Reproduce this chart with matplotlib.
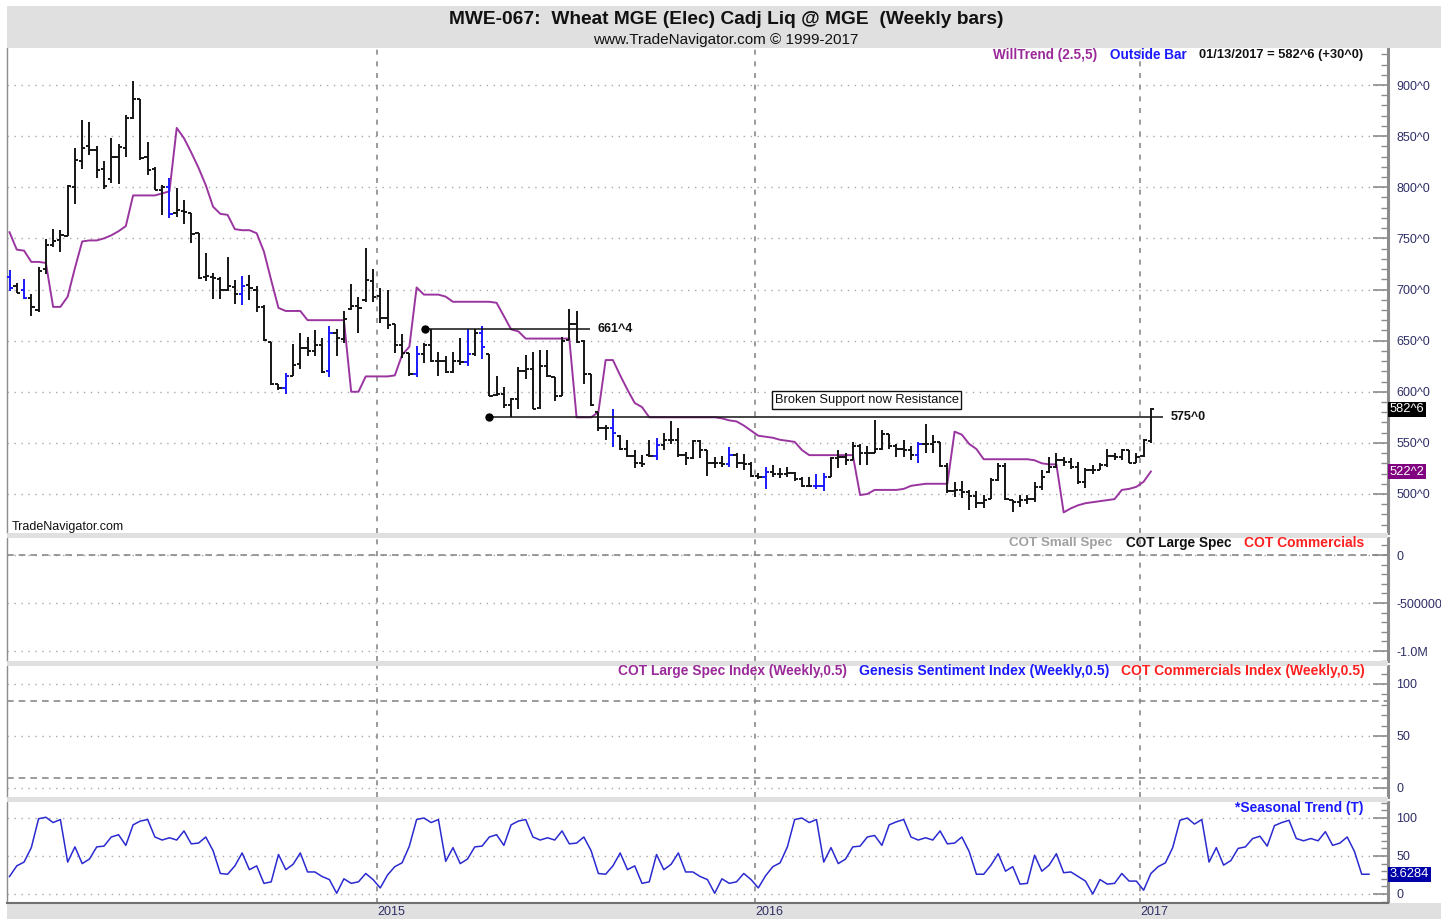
import matplotlib
matplotlib.use('Agg')
import numpy as np
import matplotlib.pyplot as plt
import matplotlib.transforms as mtransforms
from matplotlib.patches import Rectangle, Polygon, Circle
from matplotlib.ticker import FixedLocator, MultipleLocator, NullFormatter

# ---------------- data (weekly bars, Jan 10 2014 .. Jan 13 2017) ----------------
opens = [712, 703, 700, 692, 680, 720, 744, 748, 752, 800,
         826, 840, 836, 818, 808, 830, 838, 868, 886, 830,
         818, 797, 800, 775, 777, 775, 755, 712, 712, 710,
         700, 702, 696, 704, 700, 683, 649, 608, 604, 615,
         627, 643, 640, 646, 620, 657, 652, 681, 684, 690,
         708, 694, 672, 666, 646, 638, 617, 637, 646, 630,
         630, 619, 630, 629, 637, 657, 637, 597, 598, 587,
         593, 620, 622, 584, 625, 614, 596, 651, 666, 650,
         617, 580, 565, 565, 557, 544, 537, 530, 538, 537,
         548, 553, 553, 538, 535, 552, 543, 530, 530, 529,
         538, 530, 529, 518, 517, 522, 520, 520, 521, 515,
         508, 508, 508, 517, 535, 536, 533, 547, 540, 540,
         544, 559, 547, 544, 543, 538, 549, 549, 551, 527,
         503, 504, 502, 498, 491, 495, 514, 527, 494, 492,
         494, 495, 507, 522, 526, 533, 531, 526, 512, 523,
         523, 528, 537, 536, 543, 530, 537, 552]
highs = [719, 706, 710, 696, 722, 749, 759, 758, 802, 838,
         866, 864, 840, 826, 848, 842, 871, 904, 886, 844,
         820, 802, 809, 799, 788, 775, 755, 736, 716, 712,
         732, 709, 713, 714, 703, 685, 649, 608, 618, 647,
         657, 654, 660, 653, 664, 661, 679, 705, 693, 741,
         720, 701, 700, 666, 656, 638, 645, 648, 661, 639,
         635, 639, 653, 661, 661, 664, 637, 615, 605, 594,
         624, 636, 639, 641, 641, 614, 654, 681, 679, 651,
         617, 580, 567, 583, 558, 553, 543, 538, 553, 555,
         560, 571, 565, 541, 553, 553, 543, 536, 537, 546,
         540, 539, 531, 521, 526, 528, 525, 526, 522, 517,
         517, 520, 521, 536, 543, 540, 551, 549, 547, 572,
         563, 559, 549, 553, 547, 551, 568, 558, 551, 530,
         512, 513, 504, 503, 499, 516, 530, 530, 494, 499,
         499, 512, 523, 536, 540, 536, 535, 531, 525, 528,
         530, 544, 540, 544, 543, 540, 554, 584]
lows = [699, 697, 691, 674, 678, 715, 742, 737, 752, 784,
        818, 832, 809, 798, 804, 803, 830, 867, 827, 812,
        797, 773, 770, 771, 764, 745, 710, 708, 691, 691,
        699, 686, 685, 690, 678, 650, 607, 602, 598, 615,
        622, 635, 635, 618, 614, 635, 648, 680, 657, 688,
        688, 667, 661, 638, 633, 615, 614, 628, 629, 615,
        618, 618, 626, 625, 635, 632, 596, 596, 584, 575,
        583, 612, 583, 583, 614, 591, 596, 651, 648, 608,
        586, 562, 553, 546, 543, 536, 525, 526, 536, 533,
        543, 549, 536, 528, 534, 535, 518, 525, 526, 526,
        525, 523, 517, 515, 505, 517, 516, 517, 513, 507,
        507, 505, 503, 517, 525, 528, 533, 528, 528, 540,
        543, 544, 536, 536, 533, 530, 540, 540, 526, 501,
        497, 496, 484, 486, 486, 495, 513, 494, 482, 487,
        490, 492, 504, 521, 525, 527, 524, 510, 506, 520,
        523, 526, 533, 533, 530, 530, 536, 550]
closes = [701, 697, 692, 683, 718, 744, 747, 753, 801, 827,
          838, 836, 817, 801, 830, 839, 868, 886, 829, 817,
          797, 800, 774, 778, 776, 754, 711, 713, 711, 700,
          703, 696, 703, 701, 683, 651, 608, 604, 615, 626,
          643, 640, 646, 619, 657, 653, 671, 684, 682, 709,
          693, 672, 665, 646, 638, 617, 637, 646, 630, 630,
          619, 630, 629, 637, 657, 644, 596, 598, 587, 593,
          620, 622, 583, 625, 615, 596, 650, 666, 649, 617,
          587, 565, 565, 560, 544, 537, 530, 529, 537, 548,
          553, 553, 538, 535, 552, 543, 530, 530, 529, 538,
          530, 529, 518, 517, 522, 520, 520, 521, 515, 508,
          508, 508, 517, 535, 536, 533, 547, 540, 540, 544,
          559, 547, 544, 543, 538, 549, 549, 551, 527, 503,
          504, 502, 498, 491, 494, 514, 527, 495, 492, 494,
          495, 507, 517, 526, 533, 531, 526, 512, 523, 523,
          528, 537, 536, 543, 530, 536, 553, 582.75]
outside_bars = [0, 2, 22, 32, 38, 44, 56, 63, 65, 83, 89, 99, 104, 111, 112, 125]
willtrend = [756, 739, 738, 727, 727, 726, 683, 683, 693, 721,
             747, 748, 748, 750, 753, 757, 762, 792, 792, 792,
             792, 794, 796, 858, 848, 834, 819, 802, 781, 774,
             773, 759, 758, 758, 755, 737, 709, 682, 679, 679,
             679, 670, 670, 670, 670, 670, 670, 600, 600, 615,
             615, 615, 615, 616, 636, 644, 702, 695, 695, 695,
             693, 688, 688, 688, 688, 688, 688, 687, 674, 661,
             659, 652, 652, 652, 652, 652, 652, 652, 575, 575,
             575, 580, 631, 631, 616, 602, 589, 585, 575, 575,
             575, 575, 575, 575, 575, 575, 575, 575, 574, 572,
             571, 567, 562, 557, 556, 555, 553, 552, 551, 543,
             538, 538, 538, 538, 538, 538, 538, 499, 500, 504,
             504, 504, 504, 505, 508, 509, 510, 510, 510, 510,
             561, 558, 549, 544, 534, 534, 534, 534, 534, 534,
             534, 533, 530, 529, 529, 482, 486, 489, 491, 492,
             493, 494, 495, 504, 505, 507, 512, 522]
# seasonal trend, weekly (2014 from week 2, 2017 projected to week 32)
seasonal_2014 = [23, 37, 42, 61, 99, 101, 94, 98, 42, 62, 40, 46, 62, 63, 75, 78, 64,
                 91, 96, 98, 75, 71, 74, 71, 83, 66, 67, 75, 57, 27, 26, 37, 54, 32,
                 37, 14, 16, 52, 32, 39, 54, 29, 29, 23, 19, 1, 20, 14, 16, 27, 19]
seasonal_2015 = [8, 25, 36, 41, 63, 98, 100, 94, 98, 43, 61, 40, 46, 62, 63, 75, 78,
                 64, 91, 96, 98, 75, 71, 74, 71, 83, 66, 67, 75, 57, 27, 26, 37, 54,
                 32, 37, 14, 16, 52, 32, 39, 54, 29, 29, 23, 19, 1, 20, 14, 16, 27, 19]
seasonal_2016 = [8, 24, 36, 41, 62, 98, 100, 94, 98, 42, 61, 40, 46, 62, 63, 75, 77,
                 64, 91, 95, 98, 75, 71, 74, 71, 83, 66, 67, 75, 56, 26, 26, 38, 53,
                 30, 36, 13, 14, 51, 30, 38, 53, 28, 29, 23, 17, 0, 19, 13, 14, 27, 17, 17]
seasonal_2017 = [5, 27, 36, 41, 61, 97, 100, 92, 98, 42, 61, 38, 44, 60, 62, 73, 76,
                 63, 90, 94, 97, 73, 70, 73, 70, 82, 64, 67, 75, 56, 26, 26]
year_labels = ['2015', '2016', '2017']
year_first_bar = [51, 103, 156]
price_ticks = [500, 550, 600, 650, 700, 750, 800, 850, 900]
cot_ticks = [0, -500000, -1000000]
cot_tick_labels = ['0', '-500000', '-1.0M']
index_ticks = [0, 50, 100]
index_dashed = [84, 10]
seasonal_ticks = [0, 50, 100]
levels = [661.5, 575.0]
level_start = [57.2, 66.0]
level_end = [79.9, 158.7]
note_text = 'Broken Support now Resistance'
note_bar = 117.9
note_price = 592
last_date = '01/13/2017'
last_change = 30.0
seasonal_last_label = '3.6284'

# ---------------- layout helpers ----------------
W, H = 1441, 919
fig = plt.figure(figsize=(W / 100, H / 100), dpi=100)
fig.patch.set_facecolor('white')
renderer = fig.canvas.get_renderer()

L_PX, R_PX = 7, 1388
BAR0_PX, BAR_PX = 9.5, 7.27
XMIN = (L_PX - BAR0_PX) / BAR_PX
XMAX = (R_PX - BAR0_PX) / BAR_PX
GREY_BAND = '#e0e0e0'
AXIS_GREY = '#8c8c8c'
LABEL_COL = '#2e2e66'
FONT = 'Liberation Sans'


def fx(p):
    return p / W


def fy(p):
    return 1 - p / H


def bar_px(i):
    return BAR0_PX + i * BAR_PX


def fmt_price(v):
    whole = int(np.floor(v + 1e-9))
    eighths = int(round((v - whole) * 8))
    if eighths == 8:
        whole, eighths = whole + 1, 0
    return f"{whole}^{eighths}"


def fit_text(x0, x1, y, s, color, weight='bold', family=FONT, size0=9):
    t = fig.text(fx(x0), fy(y), s, color=color, family=family, fontweight=weight,
                 fontsize=size0, ha='left', va='center')
    w = t.get_window_extent(renderer=renderer).width
    t.set_fontsize(size0 * (x1 - x0) / w)
    return t


def band(x0, x1, y0, y1, color=GREY_BAND):
    fig.patches.append(Rectangle((fx(x0), fy(y1)), (x1 - x0) / W, (y1 - y0) / H,
                                 transform=fig.transFigure, facecolor=color,
                                 edgecolor='none', zorder=0))


def make_ax(top, bot, ylim, majors, minor_step, labels=None):
    ax = fig.add_axes([fx(L_PX), fy(bot), (R_PX - L_PX) / W, (bot - top) / H])
    ax.set_facecolor('white')
    ax.set_xlim(XMIN, XMAX)
    ax.set_ylim(*ylim)
    for s in ('top', 'bottom'):
        ax.spines[s].set_visible(False)
    ax.spines['left'].set_color(AXIS_GREY)
    ax.spines['left'].set_linewidth(1.0)
    ax.spines['right'].set_color(AXIS_GREY)
    ax.spines['right'].set_linewidth(2.2)
    ax.set_xticks([])
    ax.yaxis.tick_right()
    ax.yaxis.set_major_locator(FixedLocator(majors))
    if labels is not None:
        ax.set_yticklabels(labels)
    ax.yaxis.set_minor_locator(MultipleLocator(minor_step))
    ax.yaxis.set_minor_formatter(NullFormatter())
    ax.tick_params(axis='y', which='major', direction='in', length=11, width=1.2,
                   color=AXIS_GREY, labelsize=9, labelcolor=LABEL_COL, pad=6)
    ax.tick_params(axis='y', which='minor', direction='in', length=5, width=1.0,
                   color=AXIS_GREY)
    for lab in ax.get_yticklabels():
        lab.set_family(FONT)
    for m in majors:
        ax.axhline(m, color='#a8a8a8', lw=1.0, ls=(0, (1, 4)), zorder=1)
    for b in year_first_bar:
        ax.axvline(b - 0.45, color='#8a8a8a', lw=1.2, ls=(0, (3, 4)), zorder=1)
    return ax


# ---------------- background bands ----------------
band(L_PX, W, 6, 48)            # title bar
band(L_PX, R_PX, 533, 538)      # separators
band(L_PX, R_PX, 661, 666)
band(L_PX, R_PX, 797, 802)
band(L_PX, W, 903, H)           # time axis strip
fig.lines.append(plt.Line2D([fx(L_PX), fx(R_PX)], [fy(903), fy(903)],
                            transform=fig.transFigure, color='#707070', lw=1.5))

# ---------------- price panel ----------------
p_top, p_bot = 48, 533
px_per_unit = (494 - 85) / 400.0
ax_p = make_ax(p_top, p_bot,
               (900 - (p_bot - 85) / px_per_unit, 900 + (85 - p_top) / px_per_unit),
               price_ticks, 10, [fmt_price(v) for v in price_ticks])

n = len(closes)
xs = np.arange(n)
oset = set(outside_bars)
cols = ['#1a1aff' if i in oset else '#151515' for i in range(n)]
ax_p.vlines(xs, lows, highs, colors=cols, lw=1.4, zorder=4)
ax_p.hlines(opens, xs - 0.45, xs, colors=cols, lw=1.4, zorder=4)
ax_p.hlines(closes, xs, xs + 0.45, colors=cols, lw=1.4, zorder=4)
ax_p.plot(xs, willtrend, color='#9a35a0', lw=1.4, zorder=3)

for lv, s0, e0 in zip(levels, level_start, level_end):
    ax_p.hlines(lv, s0, e0, color='#111111', lw=1.1, zorder=5)
    ax_p.plot([s0], [lv], 'o', color='black', ms=5, zorder=6)
    ax_p.text(e0 + 1.0, lv, fmt_price(lv), ha='left', va='center', fontsize=9,
              fontweight='bold', family=FONT, color='#111111', zorder=6)

ax_p.text(note_bar, note_price, note_text, ha='center', va='center', fontsize=9.3,
          family=FONT, color='#111111', zorder=6,
          bbox=dict(boxstyle='square,pad=0.22', fc='white', ec='#111111', lw=1.0))

blend_p = mtransforms.blended_transform_factory(ax_p.transAxes, ax_p.transData)
ax_p.text(1.0012, closes[-1], fmt_price(closes[-1]), transform=blend_p, ha='left',
          va='center', fontsize=9.3, family=FONT, color='white', clip_on=False, zorder=10,
          bbox=dict(boxstyle='square,pad=0.12', fc='black', ec='none'))
ax_p.text(1.0012, willtrend[-1], fmt_price(willtrend[-1] + 0.25), transform=blend_p,
          ha='left', va='center', fontsize=9.3, family=FONT, color='white', clip_on=False,
          zorder=10, bbox=dict(boxstyle='square,pad=0.12', fc='#800080', ec='none'))

fig.text(fx(12), fy(527), 'TradeNavigator.com', fontsize=9, family=FONT,
         color='#111111', ha='left', va='center')

# ---------------- COT panel ----------------
c_top, c_bot = 538, 661
cot_px = 48 / 500000.0
ax_c = make_ax(c_top, c_bot, (-(c_bot - 555) / cot_px, (555 - c_top) / cot_px),
               cot_ticks, 100000, cot_tick_labels)
ax_c.axhline(0, color='#8a8a8a', lw=1.2, ls=(0, (4, 3)), zorder=2)

# ---------------- index panel ----------------
i_top, i_bot = 666, 797
idx_px = 52 / 50.0
ax_i = make_ax(i_top, i_bot, (-(i_bot - 788) / idx_px, (788 - i_top) / idx_px),
               index_ticks, 10)
for d in index_dashed:
    ax_i.axhline(d, color='#8a8a8a', lw=1.2, ls=(0, (4, 3)), zorder=2)

# ---------------- seasonal panel ----------------
s_top, s_bot = 802, 903
s_px = 76 / 100.0
ax_s = make_ax(s_top, s_bot, (-(s_bot - 894) / s_px, (894 - s_top) / s_px),
               seasonal_ticks, 10)
seasonal = seasonal_2014 + seasonal_2015 + seasonal_2016 + seasonal_2017
ax_s.plot(np.arange(len(seasonal)), seasonal, color='#2a2ad0', lw=1.1, zorder=3)
blend_s = mtransforms.blended_transform_factory(ax_s.transAxes, ax_s.transData)
ax_s.text(1.0012, seasonal[-1], seasonal_last_label, transform=blend_s, ha='left',
          va='center', fontsize=9.3, family=FONT, color='white', clip_on=False, zorder=10,
          bbox=dict(boxstyle='square,pad=0.12', fc='#0000a8', ec='none'))

# ---------------- year labels ----------------
for lab, b in zip(year_labels, year_first_bar):
    fig.text(fx(bar_px(b - 0.45)), fy(912), lab, fontsize=9, family=FONT,
             color=LABEL_COL, ha='left', va='center')

# ---------------- titles & legends ----------------
fit_text(449, 1003, 19, 'MWE-067:  Wheat MGE (Elec) Cadj Liq @ MGE  (Weekly bars)',
         '#111111', 'bold')
fit_text(593, 860, 40, 'www.TradeNavigator.com \u00a9 1999-2017', '#111111', 'normal')

fit_text(993, 1097, 55, 'WillTrend (2.5,5)', '#9a2a9a')
fit_text(1110, 1187, 55, 'Outside Bar', '#1a1aff')
fit_text(1199, 1364, 55, f'{last_date} = {fmt_price(closes[-1])} (+{fmt_price(last_change)})',
         '#111111')

fit_text(1009, 1113, 543, 'COT Small Spec', '#a0a0a0')
fit_text(1126, 1232, 543, 'COT Large Spec', '#111111')
fit_text(1244, 1364, 543, 'COT Commercials', '#ff2020')

fit_text(618, 847, 671, 'COT Large Spec Index (Weekly,0.5)', '#9a2a9a')
fit_text(859, 1109, 671, 'Genesis Sentiment Index (Weekly,0.5)', '#1a1aff')
fit_text(1121, 1364, 671, 'COT Commercials Index (Weekly,0.5)', '#ff2020')

fit_text(1235, 1364, 808, '*Seasonal Trend (T)', '#1a1aff')

# ---------------- logo (gold sextant) ----------------
lax = fig.add_axes([fx(8), fy(48), 42 / W, 40 / H])
lax.set_xlim(0, 42)
lax.set_ylim(40, 0)
lax.axis('off')
gold, dark = '#d8b820', '#8a6d00'
lax.add_patch(Polygon([(4, 33), (21, 39), (38, 33), (34, 29), (21, 34), (8, 29)],
                      closed=True, fc=gold, ec=dark, lw=0.8))
lax.add_patch(Rectangle((18.5, 5), 5, 31, fc=gold, ec=dark, lw=0.8))
lax.add_patch(Rectangle((3, 14), 16, 5, fc=gold, ec=dark, lw=0.8))
lax.add_patch(Circle((21, 5), 3, fc=gold, ec=dark, lw=0.8))
lax.add_patch(Polygon([(23, 14), (33, 22), (31, 25), (23, 18)], closed=True,
                      fc=gold, ec=dark, lw=0.8))

fig.savefig('out.png', dpi=100, facecolor=fig.get_facecolor())
